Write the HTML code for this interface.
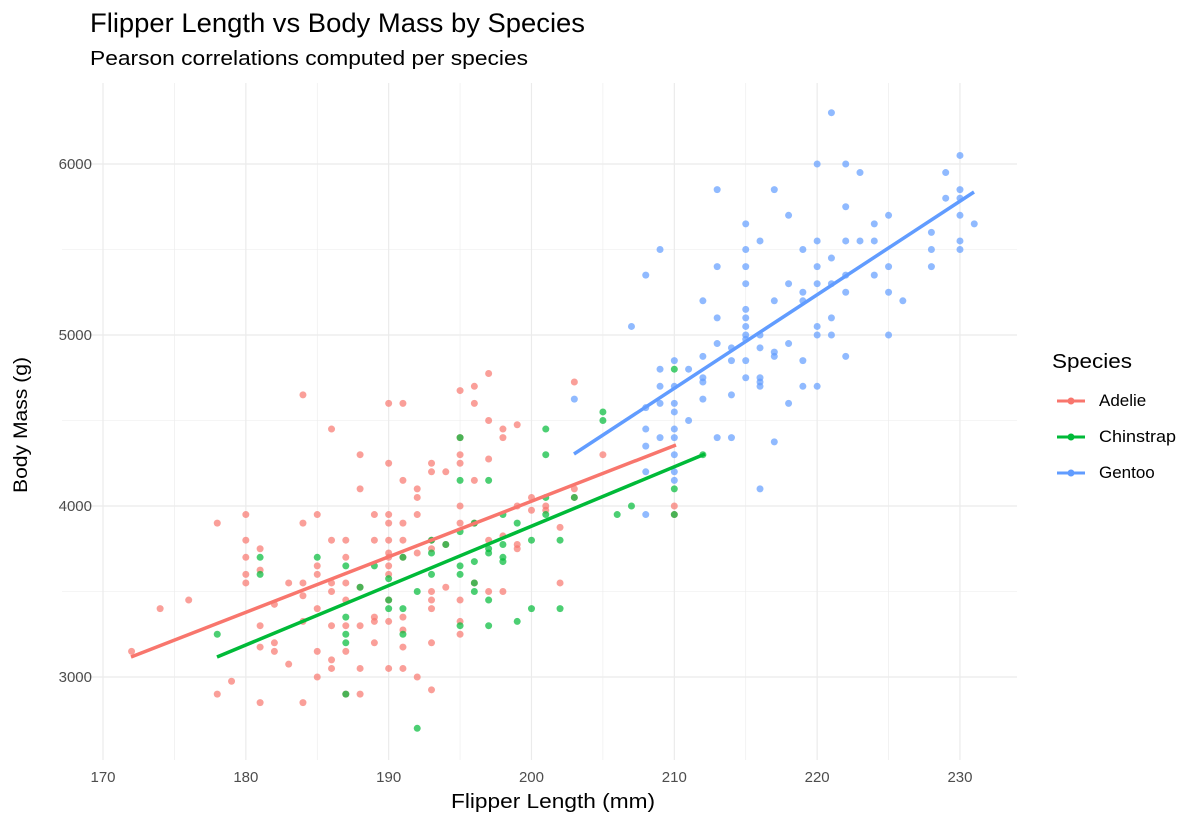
<!DOCTYPE html>
<html><head><meta charset="utf-8"><style>
body{margin:0;background:#fff;}
svg{display:block;font-family:"Liberation Sans",sans-serif;}
</style></head><body>
<svg id="s" width="1200" height="825" xmlns="http://www.w3.org/2000/svg">
<rect width="1200" height="825" fill="#fff"/>
<g id="grid"></g>
<g id="pts"></g>
<line x1="131" y1="657" x2="676" y2="445" stroke="#F8766D" stroke-width="3.5"/>
<line x1="217" y1="657" x2="705" y2="454" stroke="#00BA38" stroke-width="3.5"/>
<line x1="574" y1="454" x2="974" y2="192" stroke="#619CFF" stroke-width="3.5"/>
<text x="90" y="32" font-size="27" fill="#000" textLength="495" lengthAdjust="spacingAndGlyphs">Flipper Length vs Body Mass by Species</text>
<text x="90" y="65" font-size="20" fill="#000" textLength="438" lengthAdjust="spacingAndGlyphs">Pearson correlations computed per species</text>
<g font-size="15" fill="#4d4d4d" text-anchor="end">
<text x="92" y="682">3000</text><text x="92" y="511">4000</text><text x="92" y="340">5000</text><text x="92" y="169">6000</text>
</g>
<g font-size="15" fill="#4d4d4d" text-anchor="middle" id="xt"></g>
<text x="553" y="808" font-size="20" text-anchor="middle" textLength="204" lengthAdjust="spacingAndGlyphs">Flipper Length (mm)</text>
<text transform="translate(27,425) rotate(-90)" font-size="19" text-anchor="middle" textLength="136" lengthAdjust="spacingAndGlyphs">Body Mass (g)</text>
<text x="1052" y="368" font-size="20" textLength="80" lengthAdjust="spacingAndGlyphs">Species</text>
<g font-size="17">
<line x1="1057" y1="401" x2="1085" y2="401" stroke="#F8766D" stroke-width="3"/><circle cx="1071" cy="401" r="3.5" fill="#F8766D"/><text x="1099" y="406">Adelie</text>
<line x1="1057" y1="437" x2="1085" y2="437" stroke="#00BA38" stroke-width="3"/><circle cx="1071" cy="437" r="3.5" fill="#00BA38"/><text x="1099" y="442" textLength="77" lengthAdjust="spacingAndGlyphs">Chinstrap</text>
<line x1="1057" y1="473" x2="1085" y2="473" stroke="#619CFF" stroke-width="3"/><circle cx="1071" cy="473" r="3.5" fill="#619CFF"/><text x="1099" y="478">Gentoo</text>
</g>
</svg>
<script>
var NS="http://www.w3.org/2000/svg";
function X(v){return 103+(v-170)*14.283;}
function Y(v){return 677-(v-3000)*0.171;}
function el(p,t,a){var e=document.createElementNS(NS,t);for(var k in a)e.setAttribute(k,a[k]);p.appendChild(e);return e;}
var g=document.getElementById('grid');
for(var v=170;v<=230;v+=5){el(g,'line',{x1:X(v),x2:X(v),y1:83,y2:760,stroke:'#ebebeb','stroke-width':v%10?0.6:1.2});}
for(var m=2500;m<=6500;m+=500){var y=Y(m);if(y<83||y>760)continue;el(g,'line',{x1:62,x2:1017,y1:y,y2:y,stroke:'#ebebeb','stroke-width':m%1000?0.6:1.2});}
var xt=document.getElementById('xt');
for(var v=170;v<=230;v+=10){var t=el(xt,'text',{x:X(v),y:782});t.textContent=v;}
var A="172,3150;174,3400;176,3450;178,3900;178,2900;179,2975;180,3950;180,3800;180,3700;180,3600;180,3550;181,3750;181,3625;181,3300;181,2850;181,3175;182,3200;182,3150;182,3425;183,3550;183,3075;184,4650;184,3900;184,3550;184,3475;184,3325;184,2850;185,3950;185,3650;185,3600;185,3400;185,3150;185,3000;186,4450;186,3800;186,3550;186,3500;186,3300;186,3100;186,3050;187,3800;187,3700;187,3550;187,3450;187,3300;187,3150;187,2900;188,4300;188,4100;188,3525;188,3300;188,3050;188,2900;189,3950;189,3800;189,3350;189,3325;189,3200;190,4600;190,4250;190,3950;190,3900;190,3800;190,3725;190,3700;190,3650;190,3600;190,3450;190,3325;190,3050;191,4600;191,4150;191,3900;191,3800;191,3700;191,3350;191,3275;191,3175;191,3050;192,4100;192,4050;192,3950;192,3725;192,3000;193,4250;193,4200;193,3800;193,3750;193,3500;193,3450;193,3400;193,3200;193,2925;194,4200;194,3775;194,3525;195,4675;195,4400;195,4300;195,4250;195,4000;195,3900;195,3450;195,3325;195,3250;196,4700;196,4600;196,4150;196,3900;196,3550;197,4775;197,4500;197,4275;197,3800;197,3500;198,4450;198,4400;198,3825;198,3500;199,4475;199,4000;199,3775;199,3750;200,4050;200,3975;201,4000;201,3975;202,3875;202,3550;203,4725;203,4100;203,4050;205,4300;210,4000;210,3950";
var C="178,3250;181,3700;181,3600;185,3700;187,3650;187,3350;187,3250;187,3200;187,2900;188,3525;189,3650;190,3575;190,3450;190,3400;191,3700;191,3400;191,3250;192,2700;192,3500;193,3800;193,3725;193,3600;194,3775;195,4400;195,4150;195,3850;195,3650;195,3600;195,3300;196,3900;196,3675;196,3550;196,3500;197,4150;197,3725;197,3750;197,3450;197,3300;198,3950;198,3775;198,3700;198,3675;199,3900;199,3325;200,3800;200,3400;201,4450;201,4300;201,4050;201,3950;202,3800;202,3400;203,4050;205,4550;205,4500;206,3950;207,4000;210,4800;210,4100;210,3950;212,4300";
var G="203,4625;207,5050;208,5350;208,4575;208,4450;208,4350;208,4200;208,3950;209,5500;209,4800;209,4700;209,4600;209,4400;210,4850;210,4700;210,4600;210,4550;210,4450;210,4400;210,4300;210,4200;210,4150;211,4800;211,4500;212,5200;212,4875;212,4750;212,4725;212,4625;213,5850;213,5400;213,5100;213,4950;213,4400;214,4925;214,4850;214,4650;214,4400;215,5650;215,5500;215,5400;215,5300;215,5150;215,5100;215,5050;215,5000;215,4975;215,4850;215,4750;216,5550;216,5000;216,4925;216,4750;216,4725;216,4700;216,4100;217,5850;217,5200;217,4900;217,4875;217,4375;218,5700;218,5300;218,4950;218,4600;219,5500;219,5250;219,5200;219,4850;219,4700;220,6000;220,5550;220,5400;220,5300;220,5050;220,5000;220,4700;221,6300;221,5450;221,5300;221,5100;221,5000;222,6000;222,5750;222,5550;222,5350;222,5250;222,4875;223,5950;223,5550;224,5650;224,5550;224,5350;225,5700;225,5400;225,5250;225,5000;226,5200;228,5600;228,5500;228,5400;229,5950;229,5800;230,6050;230,5850;230,5800;230,5700;230,5550;230,5500;231,5650";
var P=document.getElementById('pts');
[[A,'#F8766D'],[C,'#00BA38'],[G,'#619CFF']].forEach(function(s){
 s[0].split(';').forEach(function(p){var q=p.split(',');el(P,'circle',{cx:X(+q[0]),cy:Y(+q[1]),r:3.5,fill:s[1],'fill-opacity':0.7});});
});
</script>
</body></html>
